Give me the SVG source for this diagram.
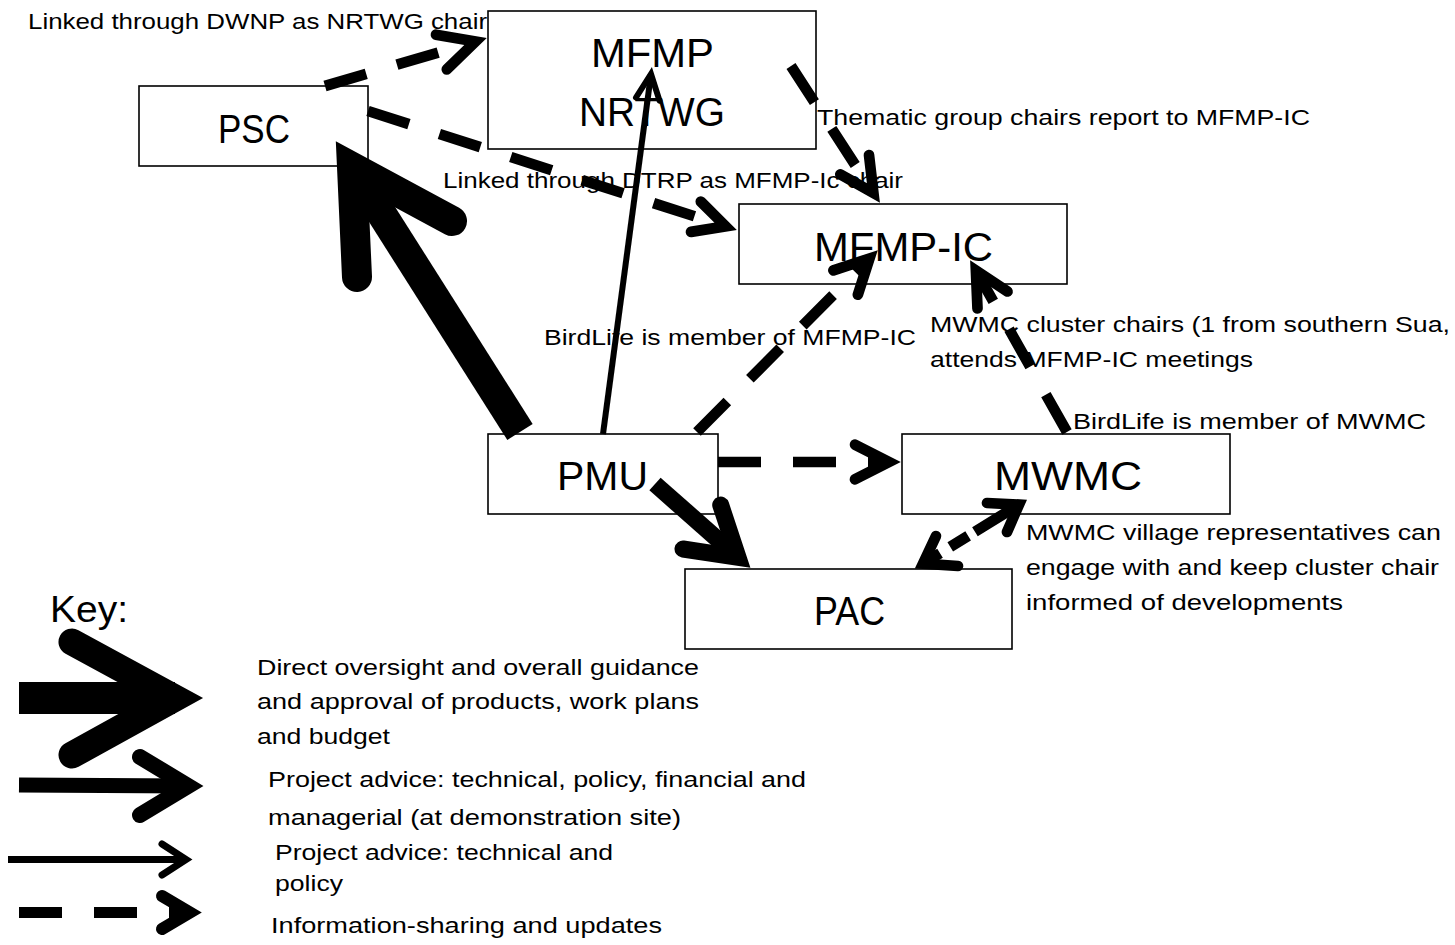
<svg xmlns="http://www.w3.org/2000/svg" width="1455" height="945" viewBox="0 0 1455 945">
<style>
.box{fill:#fff;stroke:#000;stroke-width:1.6}
.nt{font-family:"Liberation Sans",Arial,sans-serif;font-size:40px;fill:#000}
.lb{font-family:"Liberation Sans",Arial,sans-serif;font-size:22px;fill:#000}
.ln{fill:none;stroke:#000;stroke-linecap:butt}
.dash{fill:none;stroke:#000;stroke-width:10.7;stroke-dasharray:43 32;stroke-linecap:butt}
.head{fill:none;stroke:#000;stroke-linecap:round;stroke-linejoin:miter;stroke-miterlimit:10}
</style>
<rect width="1455" height="945" fill="#fff"/>

<g id="psc">
<rect class="box" x="139" y="86" width="229" height="80"/>
<text class="nt" x="218" y="143" textLength="72" lengthAdjust="spacingAndGlyphs">PSC</text>
</g>
<g id="mfmp-nrtwg">
<rect class="box" x="488" y="11" width="328" height="138"/>
<text class="nt" x="591" y="67" textLength="123" lengthAdjust="spacingAndGlyphs">MFMP</text>
<text class="nt" x="579" y="126" textLength="146" lengthAdjust="spacingAndGlyphs">NRTWG</text>
</g>
<g id="mfmp-ic">
<rect class="box" x="739" y="204" width="328" height="80"/>
<text class="nt" x="814" y="261" textLength="179" lengthAdjust="spacingAndGlyphs">MFMP-IC</text>
</g>
<g id="pmu">
<rect class="box" x="488" y="434" width="230" height="80"/>
<text class="nt" x="557" y="490" textLength="91" lengthAdjust="spacingAndGlyphs">PMU</text>
</g>
<g id="mwmc">
<rect class="box" x="902" y="434" width="328" height="80"/>
<text class="nt" x="994" y="490" textLength="148" lengthAdjust="spacingAndGlyphs">MWMC</text>
</g>
<g id="pac">
<rect class="box" x="685" y="569" width="327" height="80"/>
<text class="nt" x="814" y="625" textLength="71" lengthAdjust="spacingAndGlyphs">PAC</text>
</g>

<g id="labels">
<text class="lb" x="28" y="29" textLength="459" lengthAdjust="spacingAndGlyphs">Linked through DWNP as NRTWG chair</text>
<text class="lb" x="817" y="125" textLength="493" lengthAdjust="spacingAndGlyphs">Thematic group chairs report to MFMP-IC</text>
<text class="lb" x="443" y="188" textLength="460" lengthAdjust="spacingAndGlyphs">Linked through DTRP as MFMP-Ic chair</text>
<text class="lb" x="544" y="345" textLength="372" lengthAdjust="spacingAndGlyphs">BirdLife is member of MFMP-IC</text>
<text class="lb" x="930" y="332" textLength="520" lengthAdjust="spacingAndGlyphs">MWMC cluster chairs (1 from southern Sua,</text>
<text class="lb" x="930" y="367" textLength="323" lengthAdjust="spacingAndGlyphs">attends MFMP-IC meetings</text>
<text class="lb" x="1073" y="429" textLength="353" lengthAdjust="spacingAndGlyphs">BirdLife is member of MWMC</text>
<text class="lb" x="1026" y="540" textLength="415" lengthAdjust="spacingAndGlyphs">MWMC village representatives can</text>
<text class="lb" x="1026" y="575" textLength="413" lengthAdjust="spacingAndGlyphs">engage with and keep cluster chair</text>
<text class="lb" x="1026" y="610" textLength="317" lengthAdjust="spacingAndGlyphs">informed of developments</text>
</g>

<g id="connectors">
<!-- PMU -> PSC : direct oversight -->
<line class="ln" x1="520" y1="432" x2="352" y2="167" stroke-width="30"/>
<polyline class="head" points="357,277 352,167 452,221" stroke-width="30"/>
<!-- PMU -> MFMP NRTWG : technical and policy -->
<line class="ln" x1="603" y1="434" x2="651" y2="74" stroke-width="6"/>
<polyline class="head" points="636,97.5 651,74 659.5,100.6" stroke-width="6"/>
<!-- PMU -> PAC : technical, policy, financial, managerial -->
<line class="ln" x1="655" y1="484" x2="738" y2="557.3" stroke-width="17"/>
<polyline class="head" points="683,549 738,557.3 720.7,505" stroke-width="17"/>
<!-- PSC -> MFMP NRTWG -->
<line class="dash" x1="325" y1="86" x2="475.5" y2="41.5"/>
<polyline class="head" points="436,34.7 475.5,41.5 446.8,69.4" stroke-width="10.7"/>
<!-- PSC -> MFMP-IC -->
<line class="dash" x1="368" y1="111" x2="725.6" y2="226.3"/>
<polyline class="head" points="700.8,201.6 725.6,226.3 691,231.9" stroke-width="10.7"/>
<!-- MFMP NRTWG -> MFMP-IC -->
<line class="dash" x1="791" y1="66" x2="873.4" y2="193"/>
<polyline class="head" points="869,155 873.4,193 840.3,174.3" stroke-width="10.7"/>
<!-- PMU -> MFMP-IC -->
<line class="dash" x1="697" y1="432" x2="869.5" y2="258.5"/>
<polyline class="head" points="833.4,270.4 869.5,258.5 857.9,294.7" stroke-width="10.7"/>
<!-- PMU -> MWMC -->
<line class="dash" x1="718" y1="462" x2="889" y2="462"/>
<polyline class="head" points="855,444.7 889,462 855,479.3" stroke-width="10.7"/>
<!-- MWMC -> MFMP-IC -->
<line class="dash" x1="1067" y1="432" x2="975.9" y2="270.5"/>
<polyline class="head" points="977.5,308.5 975.9,270.5 1007.5,291.5" stroke-width="10.7"/>
<!-- PAC <-> MWMC -->
<line class="ln" x1="923" y1="563.7" x2="1019" y2="504.6" stroke-width="10.7" stroke-dasharray="20 12 21 8 60"/>
<polyline class="head" points="936,536 923,563.7 958,566" stroke-width="10.7"/>
<polyline class="head" points="987,503 1019,504.6 1007,532" stroke-width="10.7"/>
</g>

<g id="legend">
<text class="lb" x="50" y="622" font-size="37" textLength="78" lengthAdjust="spacingAndGlyphs" style="font-size:37px">Key:</text>
<line class="ln" x1="19" y1="698" x2="175" y2="698" stroke-width="32"/>
<polyline class="head" points="72,642 175,698 72,755" stroke-width="27"/>
<line class="ln" x1="19" y1="785" x2="188" y2="786" stroke-width="15"/>
<polyline class="head" points="140,757 188,786 140,815" stroke-width="16"/>
<line class="ln" x1="8" y1="859.5" x2="186" y2="859.5" stroke-width="7"/>
<polyline class="head" points="162,844 186,859.5 162,875" stroke-width="7"/>
<line class="dash" x1="19" y1="912.5" x2="190" y2="912.5" style="stroke-width:11"/>
<polyline class="head" points="162,896 190,912.5 162,929" stroke-width="12"/>
<text class="lb" x="257" y="675" textLength="442" lengthAdjust="spacingAndGlyphs">Direct oversight and overall guidance</text>
<text class="lb" x="257" y="709" textLength="442" lengthAdjust="spacingAndGlyphs">and approval of products, work plans</text>
<text class="lb" x="257" y="744" textLength="133" lengthAdjust="spacingAndGlyphs">and budget</text>
<text class="lb" x="268" y="787" textLength="538" lengthAdjust="spacingAndGlyphs">Project advice: technical, policy, financial and</text>
<text class="lb" x="268" y="825" textLength="413" lengthAdjust="spacingAndGlyphs">managerial (at demonstration site)</text>
<text class="lb" x="275" y="860" textLength="338" lengthAdjust="spacingAndGlyphs">Project advice: technical and</text>
<text class="lb" x="275" y="891" textLength="68" lengthAdjust="spacingAndGlyphs">policy</text>
<text class="lb" x="271" y="933" textLength="391" lengthAdjust="spacingAndGlyphs">Information-sharing and updates</text>
</g>
</svg>
